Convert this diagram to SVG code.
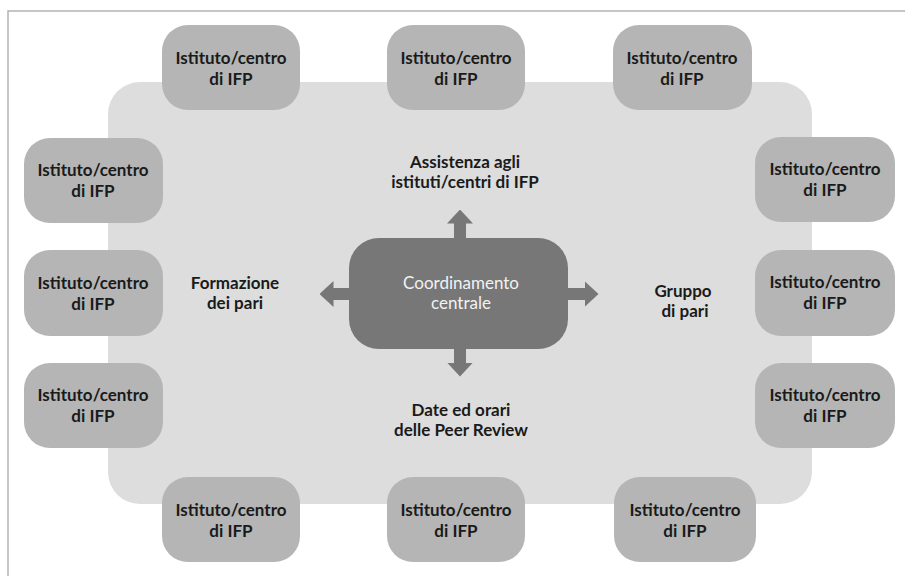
<svg xmlns="http://www.w3.org/2000/svg" width="905" height="576" viewBox="0 0 905 576">
<style>
.frame{fill:none;stroke:#b3b3b3;stroke-width:1.5}
.panel{fill:#dcdddc}
.node rect{fill:#b4b5b4}
.node text,.lbl{font-family:Lato,"Open Sans",sans-serif;font-weight:700;font-size:17px;fill:#1a1a1a;text-anchor:middle}
.center rect{fill:#767776}
.center text{font-family:Lato,"Open Sans",sans-serif;font-weight:400;font-size:17px;fill:#f2f2f2;text-anchor:middle}
.conn line{stroke:#767776;stroke-width:12;marker-end:url(#head)}
</style>
<defs>
<marker id="head" viewBox="0 0 14 26" markerUnits="userSpaceOnUse" markerWidth="14" markerHeight="26" refX="0.5" refY="13" orient="auto">
<path d="M0,0 L14,13 L0,26 Z" fill="#767776"/>
</marker>
</defs>
<rect width="905" height="576" fill="#ffffff"/>
<path class="frame" d="M8,576 V11 H905"/>
<rect id="panel" class="panel" x="108" y="82" width="704" height="422" rx="32"/>

<g id="conn" class="conn">
<line x1="460" y1="245" x2="460" y2="223"/>
<line x1="460" y1="342" x2="460" y2="363"/>
<line x1="356" y1="294" x2="333" y2="294"/>
<line x1="561" y1="294" x2="585" y2="294"/>
</g>

<g id="center" class="center">
<rect x="349" y="238" width="219" height="111" rx="30"/>
<text x="461" y="289">Coordinamento</text>
<text x="461" y="309">centrale</text>
</g>

<g id="n-top1" class="node"><rect x="162" y="25" width="138" height="85" rx="26"/><text x="231" y="64">Istituto/centro</text><text x="231" y="85">di IFP</text></g>
<g id="n-top2" class="node"><rect x="387" y="25" width="138" height="85" rx="26"/><text x="456" y="64">Istituto/centro</text><text x="456" y="85">di IFP</text></g>
<g id="n-top3" class="node"><rect x="613" y="25" width="139" height="85" rx="26"/><text x="682" y="64">Istituto/centro</text><text x="682" y="85">di IFP</text></g>

<g id="n-left1" class="node"><rect x="24" y="138" width="139" height="85" rx="26"/><text x="93" y="176">Istituto/centro</text><text x="93" y="197">di IFP</text></g>
<g id="n-left2" class="node"><rect x="24" y="250" width="139" height="86" rx="26"/><text x="93" y="289">Istituto/centro</text><text x="93" y="310">di IFP</text></g>
<g id="n-left3" class="node"><rect x="24" y="363" width="139" height="85" rx="26"/><text x="93" y="401">Istituto/centro</text><text x="93" y="422">di IFP</text></g>

<g id="n-right1" class="node"><rect x="755" y="137" width="140" height="85" rx="26"/><text x="825" y="175">Istituto/centro</text><text x="825" y="196">di IFP</text></g>
<g id="n-right2" class="node"><rect x="755" y="250" width="140" height="86" rx="26"/><text x="825" y="288">Istituto/centro</text><text x="825" y="309">di IFP</text></g>
<g id="n-right3" class="node"><rect x="755" y="363" width="140" height="85" rx="26"/><text x="825" y="401">Istituto/centro</text><text x="825" y="422">di IFP</text></g>

<g id="n-bot1" class="node"><rect x="162" y="477" width="138" height="85" rx="26"/><text x="231" y="516">Istituto/centro</text><text x="231" y="537">di IFP</text></g>
<g id="n-bot2" class="node"><rect x="387" y="477" width="138" height="85" rx="26"/><text x="456" y="516">Istituto/centro</text><text x="456" y="537">di IFP</text></g>
<g id="n-bot3" class="node"><rect x="614" y="477" width="142" height="85" rx="26"/><text x="685" y="516">Istituto/centro</text><text x="685" y="537">di IFP</text></g>

<g id="lbl-top"><text class="lbl" x="465" y="168">Assistenza agli</text><text class="lbl" x="465" y="188">istituti/centri di IFP</text></g>
<g id="lbl-left"><text class="lbl" x="235" y="289">Formazione</text><text class="lbl" x="235" y="309">dei pari</text></g>
<g id="lbl-right"><text class="lbl" x="683" y="297">Gruppo</text><text class="lbl" x="685" y="317">di pari</text></g>
<g id="lbl-bottom"><text class="lbl" x="461" y="416">Date ed orari</text><text class="lbl" x="461" y="436">delle Peer Review</text></g>
</svg>
